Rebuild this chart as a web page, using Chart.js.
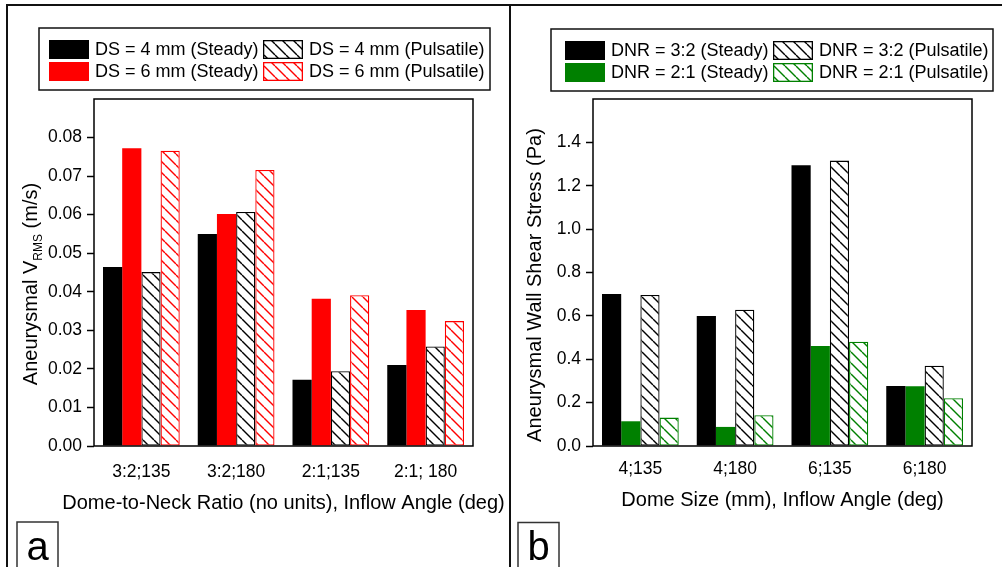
<!DOCTYPE html>
<html>
<head>
<meta charset="utf-8">
<script src="https://cdn.jsdelivr.net/npm/chart.js@4.4.1/dist/chart.umd.min.js"></script>
<style>
  html, body { margin: 0; padding: 0; background: #fff; }
  body { width: 1002px; height: 567px; position: relative; overflow: hidden; }
  #wa { position: absolute; left: 0; top: 0; width: 510px; height: 567px; }
  #wb { position: absolute; left: 510px; top: 0; width: 492px; height: 567px; }
  .ln { position: absolute; background: #111; }
</style>
</head>
<body>
<div id="wa"><canvas id="ca" width="510" height="567"></canvas></div>
<div id="wb"><canvas id="cb" width="492" height="567"></canvas></div>
<div class="ln" style="left:6px;top:4px;width:996px;height:2px;"></div>
<div class="ln" style="left:6px;top:4px;width:2px;height:563px;"></div>
<div class="ln" style="left:509px;top:4px;width:2px;height:563px;"></div>
<script>
// ---------- data ----------
const categoriesA = ['3:2;135', '3:2;180', '2:1;135', '2:1; 180'];
const ds4Steady = [0.0464, 0.0550, 0.0172, 0.0210];
const ds6Steady = [0.0772, 0.0602, 0.0382, 0.0353];
const ds4Pulsatile = [0.0451, 0.0607, 0.0194, 0.0258];
const ds6Pulsatile = [0.0766, 0.0716, 0.0391, 0.0324];
const yTickLabelsA = ['0.00', '0.01', '0.02', '0.03', '0.04', '0.05', '0.06', '0.07', '0.08'];
const yMaxA = 0.09, yStepA = 0.01;

const categoriesB = ['4;135', '4;180', '6;135', '6;180'];
const dnr32Steady = [0.701, 0.599, 1.294, 0.277];
const dnr21Steady = [0.114, 0.088, 0.461, 0.276];
const dnr32Pulsatile = [0.696, 0.628, 1.316, 0.370];
const dnr21Pulsatile = [0.131, 0.142, 0.481, 0.220];
const yTickLabelsB = ['0.0', '0.2', '0.4', '0.6', '0.8', '1.0', '1.2', '1.4'];
const yMaxB = 1.6, yStepB = 0.2;

const legendA = ['DS = 4 mm (Steady)', 'DS = 6 mm (Steady)', 'DS = 4 mm (Pulsatile)', 'DS = 6 mm (Pulsatile)'];
const legendB = ['DNR = 3:2 (Steady)', 'DNR = 2:1 (Steady)', 'DNR = 3:2 (Pulsatile)', 'DNR = 2:1 (Pulsatile)'];

const BLACK = '#000000', RED = '#ff0000', GREEN = '#008000';
const FONT = '"Liberation Sans", Arial, sans-serif';

function hatch(color) {
  const s = 11;
  const c = document.createElement('canvas');
  c.width = s; c.height = s;
  const g = c.getContext('2d');
  g.fillStyle = '#fff';
  g.fillRect(0, 0, s, s);
  g.strokeStyle = color;
  g.lineWidth = 1.4;
  for (const x0 of [-s, 0, s]) {
    g.beginPath();
    g.moveTo(x0, 0);
    g.lineTo(x0 + s, s);
    g.stroke();
  }
  return g.createPattern(c, 'repeat');
}

function makeDatasets(labels, vals, colors) {
  return vals.map((v, i) => {
    const pulsatile = i >= 2;
    return {
      label: labels[i],
      data: v,
      backgroundColor: pulsatile ? hatch(colors[i]) : colors[i],
      borderColor: colors[i],
      borderWidth: pulsatile ? 1.3 : 0,
      borderSkipped: false,
      _color: colors[i],
      _hatch: pulsatile
    };
  });
}

// plugin drawing frame, axis titles, legend box, panel letter
function decorPlugin(cfg) {
  return {
    id: 'decor',
    afterDatasetsDraw(chart) {
      const ctx = chart.ctx, a = chart.chartArea;
      ctx.save();
      ctx.strokeStyle = '#000';
      ctx.lineWidth = 1.5;
      ctx.strokeRect(a.left, a.top, a.right - a.left, a.bottom - a.top);
      ctx.restore();
    },
    afterDraw(chart) {
      const ctx = chart.ctx, a = chart.chartArea;
      ctx.save();
      ctx.fillStyle = '#000';
      // x title
      ctx.font = '20px ' + FONT;
      ctx.textAlign = 'center';
      ctx.textBaseline = 'alphabetic';
      ctx.fillText(cfg.xTitle, (a.left + a.right) / 2, cfg.xTitleBase);
      // y title (rotated), composed of parts
      ctx.save();
      ctx.translate(cfg.yTitleBaseX, cfg.yTitleCenterY);
      ctx.rotate(-Math.PI / 2);
      ctx.textAlign = 'left';
      let total = 0;
      for (const p of cfg.yTitleParts) {
        ctx.font = p.size + 'px ' + FONT;
        total += ctx.measureText(p.t).width;
      }
      let x = -total / 2;
      for (const p of cfg.yTitleParts) {
        ctx.font = p.size + 'px ' + FONT;
        ctx.fillText(p.t, x, p.dy || 0);
        x += ctx.measureText(p.t).width;
      }
      ctx.restore();
      // legend box
      const L = cfg.legend;
      ctx.strokeStyle = '#111';
      ctx.lineWidth = 1.5;
      ctx.strokeRect(L.x, L.y, L.w, L.h);
      const order = [[0, 0, 0], [2, 1, 0], [1, 0, 1], [3, 1, 1]];
      ctx.font = '18px ' + FONT;
      ctx.textAlign = 'left';
      ctx.textBaseline = 'middle';
      for (const [di, col, row] of order) {
        const ds = chart.data.datasets[di];
        const sx = L.colX[col], sy = L.rowY[row];
        ctx.fillStyle = ds.backgroundColor;
        ctx.fillRect(sx, sy, L.sw, L.sh);
        if (ds._hatch) {
          ctx.strokeStyle = ds._color;
          ctx.lineWidth = 1.3;
          ctx.strokeRect(sx + 0.65, sy + 0.65, L.sw - 1.3, L.sh - 1.3);
        }
        ctx.fillStyle = '#000';
        ctx.fillText(ds.label, sx + L.sw + L.gap, sy + L.sh / 2 + 1);
      }
      // panel letter
      const P = cfg.letter;
      ctx.strokeStyle = '#333';
      ctx.lineWidth = 1.5;
      ctx.strokeRect(P.x, P.y, P.w, 100);
      ctx.fillStyle = '#000';
      ctx.font = '40px ' + FONT;
      ctx.textAlign = 'center';
      ctx.textBaseline = 'alphabetic';
      ctx.fillText(P.t, P.x + P.w / 2, P.base);
      ctx.restore();
    }
  };
}

function buildChart(id, categories, datasets, yMax, yStep, yLabels, pad, xPad, tickPad, cfg) {
  return new Chart(document.getElementById(id), {
    type: 'bar',
    data: { labels: categories, datasets: datasets },
    options: {
      responsive: false,
      animation: false,
      events: [],
      layout: { padding: pad },
      plugins: { legend: { display: false }, tooltip: { enabled: false }, title: { display: false } },
      datasets: { bar: { categoryPercentage: 0.81, barPercentage: 1.0 } },
      scales: {
        x: {
          grid: { display: false, drawTicks: false },
          border: { display: false },
          ticks: { color: '#000', font: { family: FONT, size: 17.5 }, padding: xPad, maxRotation: 0 },
          afterFit(s) { s.height = 40; }
        },
        y: {
          min: 0, max: yMax,
          grid: {
            drawOnChartArea: false,
            drawTicks: true,
            tickLength: 7,
            tickWidth: 1.5,
            tickColor: (c) => (c.tick && c.index < yLabels.length) ? '#000' : 'rgba(0,0,0,0)'
          },
          border: { display: false },
          ticks: {
            stepSize: yStep,
            color: '#000',
            font: { family: FONT, size: 17.5 },
            padding: tickPad,
            callback: (v, i) => (i < yLabels.length ? yLabels[i] : '')
          },
          afterFit(s) { s.width = 50; }
        }
      }
    },
    plugins: [decorPlugin(cfg)]
  });
}

buildChart('ca', categoriesA,
  makeDatasets(legendA, [ds4Steady, ds6Steady, ds4Pulsatile, ds6Pulsatile], [BLACK, RED, BLACK, RED]),
  yMaxA, yStepA, yTickLabelsA,
  { left: 44, right: 37, top: 99, bottom: 567 - 446 - 40 }, 16, 5,
  {
    xTitle: 'Dome-to-Neck Ratio (no units), Inflow Angle (deg)',
    xTitleBase: 508.5,
    yTitleBaseX: 37, yTitleCenterY: 284,
    yTitleParts: [{ t: 'Aneurysmal V', size: 20 }, { t: 'RMS', size: 12, dy: 5 }, { t: ' (m/s)', size: 20 }],
    legend: { x: 39, y: 28, w: 451, h: 62, colX: [49, 263], rowY: [40, 62], sw: 40, sh: 19, gap: 6 },
    letter: { x: 17, y: 522, w: 41, base: 560, t: 'a' }
  });

buildChart('cb', categoriesB,
  makeDatasets(legendB, [dnr32Steady, dnr21Steady, dnr32Pulsatile, dnr21Pulsatile], [BLACK, GREEN, BLACK, GREEN]),
  yMaxB, yStepB, yTickLabelsB,
  { left: 33, right: 30, top: 99, bottom: 567 - 446 - 40 }, 13, 5,
  {
    xTitle: 'Dome Size (mm), Inflow Angle (deg)',
    xTitleBase: 506,
    yTitleBaseX: 31, yTitleCenterY: 285,
    yTitleParts: [{ t: 'Aneurysmal Wall Shear Stress (Pa)', size: 20 }],
    legend: { x: 41, y: 29, w: 442, h: 62, colX: [55, 263], rowY: [41, 63], sw: 40, sh: 19, gap: 6 },
    letter: { x: 8, y: 522.5, w: 41, base: 560, t: 'b' }
  });
</script>
</body>
</html>
